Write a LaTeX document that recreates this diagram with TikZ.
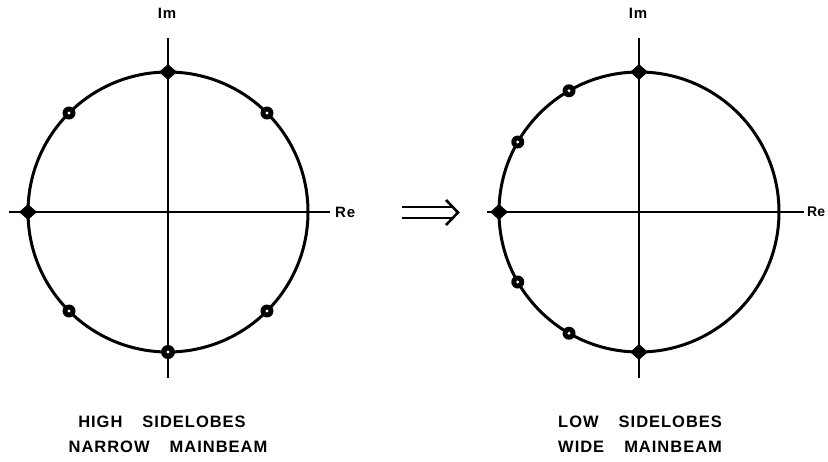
\documentclass[tikz,border=0pt]{standalone}
\usepackage{fontspec}
\setmainfont{Liberation Sans}
\usetikzlibrary{shapes.geometric,calc}
\tikzset{
  axisline/.style={line width=2.6pt},
  ringline/.style={line width=3pt},
  zerodia/.style={diamond, fill=black, inner sep=0pt, minimum width=18pt, minimum height=16pt},
  zeroring/.style={circle, fill=black, inner sep=0pt, minimum size=13pt,
     path picture={\fill[white] (path picture bounding box.center) circle (1.6pt);}},
  lbl/.style={font=\bfseries\fontsize{16.5}{18}\selectfont\addfontfeatures{LetterSpace=6}, inner sep=0pt},
  axlbl/.style={font=\bfseries\fontsize{15}{16}\selectfont\addfontfeatures{LetterSpace=6}, inner sep=0pt}
}
\begin{document}
\begin{tikzpicture}[x=1pt,y=-1pt]
\useasboundingbox (0,0) rectangle (828,461);
% ---- left diagram
\coordinate (LC) at (168,212);
\coordinate (Lw) at (9,212);  \coordinate (Le) at (330,212);
\coordinate (Ln) at (168,38); \coordinate (Ls) at (168,378);
\draw[ringline] (LC) circle[radius=140pt];
\draw[axisline] (Lw) -- (Le);
\draw[axisline] (Ln) -- (Ls);
\node[axlbl] (Lim) at (167,13) {Im};
\node[axlbl, anchor=west] (Lre) at (335,212) {Re};
\node[zerodia] (L90) at ($(LC)+(0,-140)$) {};
\node[zerodia] (L180) at ($(LC)+(-140,0)$) {};
\node[zeroring, minimum size=14pt] (L270) at ($(LC)+(0,140)$) {};
\foreach \a in {45,135,225,315}
  \node[zeroring] (L\a) at ($(LC)+({140*cos(\a)},{-140*sin(\a)})$) {};
% ---- arrow
\coordinate (A1) at (402,207); \coordinate (A2) at (452,207);
\coordinate (B1) at (402,218); \coordinate (B2) at (452,218);
\coordinate (T0) at (446,200); \coordinate (T1) at (458,212.5); \coordinate (T2) at (446,225);
\draw[line width=2.6pt] (A1) -- (A2);
\draw[line width=2.6pt] (B1) -- (B2);
\draw[line width=2.6pt, line join=miter] (T0) -- (T1) -- (T2);
% ---- right diagram
\coordinate (RC) at (639,212);
\coordinate (Rw) at (487,212); \coordinate (Re) at (804,212);
\coordinate (Rn) at (639,38);  \coordinate (Rs) at (639,378);
\draw[ringline] (RC) circle[radius=140pt];
\draw[axisline] (Rw) -- (Re);
\draw[axisline] (Rn) -- (Rs);
\node[axlbl] (Rim) at (638,13) {Im};
\node[axlbl, anchor=west, font=\bfseries\fontsize{14}{16}\selectfont] (Rre) at (807,212) {Re};
\node[zerodia] (R90) at ($(RC)+(0,-140)$) {};
\node[zerodia] (R180) at ($(RC)+(-140,0)$) {};
\node[zerodia] (R270) at ($(RC)+(0,140)$) {};
\foreach \a in {120,150,210,240}
  \node[zeroring] (R\a) at ($(RC)+({140*cos(\a)},{-140*sin(\a)})$) {};
% ---- captions
\node[lbl] (cap1) at (162,421.5) {HIGH\hspace{20pt}SIDELOBES};
\node[lbl] (cap2) at (168,447) {NARROW\hspace{20pt}MAINBEAM};
\node[lbl, anchor=west] (cap3) at (558,421.5) {LOW\hspace{20pt}SIDELOBES};
\node[lbl, anchor=west] (cap4) at (558,447) {WIDE\hspace{20pt}MAINBEAM};
\end{tikzpicture}
\end{document}
